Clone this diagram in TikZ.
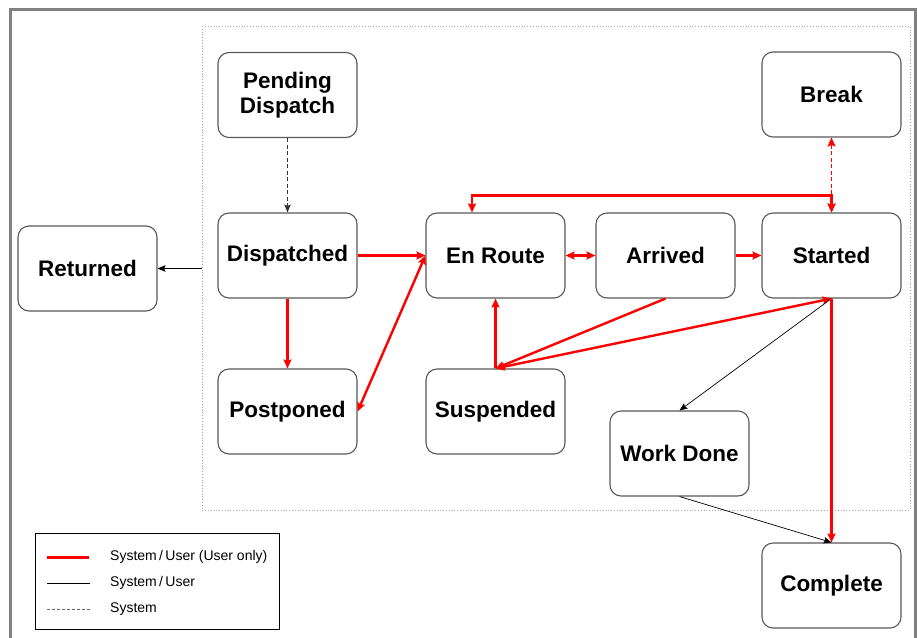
\documentclass[tikz,border=0pt]{standalone}
\usepackage{fontspec}
\newfontfamily\arialfont{Liberation Sans}
\usetikzlibrary{arrows.meta}
\tikzset{
  state/.style={draw=black!65, line width=1.1pt, rounded corners=11pt,
    minimum width=139pt, minimum height=85pt, align=center, inner sep=2pt,
    font=\arialfont\bfseries\fontsize{22.5}{25}\selectfont},
  redline/.style={draw=red, line width=2.4pt},
  redarr/.style={redline, -{Stealth[length=9pt,width=8pt,inset=1.5pt]}},
  redboth/.style={redline, {Stealth[length=9pt,width=8pt,inset=1.5pt]}-{Stealth[length=9pt,width=8pt,inset=1.5pt]}},
  reddash/.style={draw=red, line width=1pt, dash pattern=on 4pt off 2.5pt,
    {Stealth[length=9pt,width=8pt,inset=1.5pt]}-{Stealth[length=9pt,width=8pt,inset=1.5pt]}},
  blkarr/.style={draw=black, line width=0.7pt, -{Stealth[length=8pt,width=6.5pt,inset=1.5pt]}},
  blkdash/.style={draw=black!80, line width=0.8pt, dash pattern=on 4pt off 2.5pt,
    -{Stealth[length=8pt,width=6.5pt,inset=1.5pt]}},
  legtext/.style={anchor=west, inner sep=0pt, font=\arialfont\fontsize{14}{16}\selectfont}
}
\begin{document}
\begin{tikzpicture}[x=1pt,y=-1pt]
\useasboundingbox (0,0) rectangle (917,637);
\clip (0,0) rectangle (917,637);
\fill[white] (0,0) rectangle (917,637);
% outer frame
\draw[black!50, line width=3pt] (10,9) rectangle (915,680);
% inner dotted frame
\draw[black!35, line width=0.8pt, dotted] (202,26) rectangle (910,510);

% states
\node[state] (pend) at (287.5,95)   {Pending\\Dispatch};
\node[state] (disp) at (287.5,255.5) {Dispatched};
\node[state] (post) at (287.5,411.5) {Postponed};
\node[state] (ret)  at (87.5,268.5)  {Returned};
\node[state] (enr)  at (495.5,255.5) {En Route};
\node[state] (arr)  at (665.5,255.5) {Arrived};
\node[state] (sta)  at (831.5,255.5) {Started};
\node[state] (brk)  at (831.5,94.5)  {Break};
\node[state] (susp) at (495.5,411.5) {Suspended};
\node[state] (wd)   at (679.5,453.5) {Work Done};
\node[state] (comp) at (831.5,585.5) {Complete};

% connectors
\coordinate (fr) at (202,268.5);
\draw[blkdash] (pend) -- (disp);
\draw[blkarr] (fr) -- (ret.east);
\draw[redarr] (disp.east) -- (enr.west);
\draw[redarr] (disp) -- (post);
\draw[redboth] (post.east) -- (enr.west);
\draw[redboth] (enr) -- (arr);
\draw[redarr] (arr) -- (sta);
\draw[redboth, rounded corners=0pt] ([xshift=-23.5pt]enr.north) -- ++(0,-17) -| (sta.north);
\draw[reddash] (brk.south) -- (sta.north);
\draw[redarr] (arr.south) -- (susp.north);
\draw[redboth] (sta.south) -- (susp.north);
\draw[redarr] (susp) -- (enr);
\draw[blkarr] (sta.south) -- (wd.north);
\draw[redarr] (sta.south) -- (comp.north);
\draw[blkarr] (wd.south) -- (comp.north);

% legend
\node[draw=black, line width=0.8pt, minimum width=244pt, minimum height=96pt, inner sep=0pt] (leg) at (157,581) {};
\coordinate (l1a) at (47,557); \coordinate (l1b) at (89,557);
\coordinate (l2a) at (47,583); \coordinate (l2b) at (90,583);
\coordinate (l3a) at (47,609); \coordinate (l3b) at (90,609);
\draw[red, line width=3pt] (l1a) -- (l1b);
\draw[black, line width=0.7pt] (l2a) -- (l2b);
\draw[black!60, line width=0.7pt, dash pattern=on 3pt off 2pt] (l3a) -- (l3b);
\node[legtext] (t1) at (110,557) {System\,/\,User (User only)};
\node[legtext] (t2) at (110,583) {System\,/\,User};
\node[legtext] (t3) at (110,609) {System};
\end{tikzpicture}
\end{document}
